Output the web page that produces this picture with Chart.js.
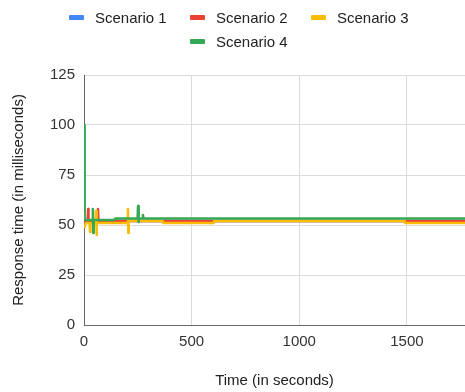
<!DOCTYPE html>
<html>
<head>
<meta charset="utf-8">
<script src="https://cdn.jsdelivr.net/npm/chart.js@4.4.0/dist/chart.umd.min.js"></script>
<style>
  html, body { margin: 0; padding: 0; background: #fff; }
  #wrap { position: relative; width: 465px; height: 392px; }
  #chart { position: absolute; left: 0; top: 0; }
  #legend { position: absolute; left: 0; top: 0; font: 15px "Liberation Sans", Arial, sans-serif; color: #222; }
  .item { position: absolute; height: 18px; display: flex; align-items: center; white-space: nowrap; }
  .box { display: inline-block; width: 15px; height: 5px; border-radius: 1px; margin-right: 11px; }
</style>
</head>
<body>
<div id="wrap">
  <canvas id="chart" width="465" height="392"></canvas>
  <div id="legend"></div>
</div>
<script>
// data
var seriesNames = ['Scenario 1', 'Scenario 2', 'Scenario 3', 'Scenario 4'];
var seriesColors = ['#4285F4', '#EA4335', '#FBBC04', '#34A853'];

var s1Time   = [0, 1800];
var s1Values = [52, 52];

var s2Time   = [0, 4, 17, 19, 21, 63, 65, 67, 1800];
var s2Values = [52, 52, 52, 58, 52, 52, 58, 52, 52];

var s3Time   = [0, 4, 10, 26, 28, 30, 54, 56, 58, 60, 202, 204, 206, 208, 366, 369, 602, 605, 1489, 1492, 1800];
var s3Values = [49, 50, 51, 51, 46.5, 51, 51, 57, 45, 51, 51, 58, 46, 52, 52, 51, 51, 52, 52, 51, 51];

var s4Time   = [0, 3, 8, 39, 41, 43, 45, 140, 146, 249, 251, 253, 255, 272, 274, 276, 1800];
var s4Values = [100, 53, 52.5, 52.5, 58, 46, 52.5, 52.5, 53.3, 53.3, 59.5, 51.5, 53.3, 53.3, 55, 53.3, 53.3];

var xTicks = [0, 500, 1000, 1500];
var yTicks = [0, 25, 50, 75, 100, 125];

var font = { family: '"Liberation Sans", Arial, sans-serif', size: 15 };

function points(t, v) {
    return t.map(function (x, i) { return { x: x, y: v[i] }; });
}

var allTimes = [s1Time, s2Time, s3Time, s4Time];
var allValues = [s1Values, s2Values, s3Values, s4Values];

var datasets = seriesNames.map(function (name, i) {
    return {
        label: name,
        data: points(allTimes[i], allValues[i]),
        borderColor: seriesColors[i],
        backgroundColor: seriesColors[i],
        showLine: true,
        borderWidth: 2.5,
        borderJoinStyle: 'round',
        pointRadius: 0,
        order: 4 - i
    };
});

// legend (3 columns, wraps under column 2)
var legendSpots = [[69, 8], [190, 8], [311, 8], [190, 32]];
var legend = document.getElementById('legend');
seriesNames.forEach(function (name, i) {
    var item = document.createElement('div');
    item.className = 'item';
    item.style.left = legendSpots[i][0] + 'px';
    item.style.top = legendSpots[i][1] + 'px';
    item.innerHTML = '<span class="box" style="background:' + seriesColors[i] + '"></span>' + name;
    legend.appendChild(item);
});

var ctx = document.getElementById('chart').getContext('2d');

var myChart = new Chart(ctx, {
    type: 'scatter',
    data: { datasets: datasets },
    options: {
        responsive: false,
        animation: false,
        layout: { padding: { top: 75, right: 0, bottom: 0, left: 0 } },
        plugins: {
            legend: { display: false },
            tooltip: { enabled: false }
        },
        scales: {
            x: {
                type: 'linear',
                min: 0,
                max: 1770,
                afterFit: function (s) { s.height = 67; },
                afterBuildTicks: function (s) { s.ticks = xTicks.map(function (v) { return { value: v }; }); },
                ticks: { padding: 8, color: '#333', font: font, callback: function (v) { return String(v); } },
                grid: { color: '#dcdcdc', drawTicks: false },
                border: { color: '#666' },
                title: { display: true, text: 'Time (in seconds)', color: '#222', font: font, padding: { top: 0, bottom: 2 } }
            },
            y: {
                min: 0,
                max: 125,
                afterFit: function (s) { s.width = 84; },
                afterBuildTicks: function (s) { s.ticks = yTicks.map(function (v) { return { value: v }; }); },
                ticks: { padding: 9, color: '#333', font: font, callback: function (v) { return String(v); } },
                grid: { color: '#dcdcdc', drawTicks: false },
                border: { color: '#666' },
                title: { display: true, text: 'Response time (in milliseconds)', color: '#222', font: font, padding: { top: 10, bottom: 0 } }
            }
        }
    }
});
</script>
</body>
</html>
